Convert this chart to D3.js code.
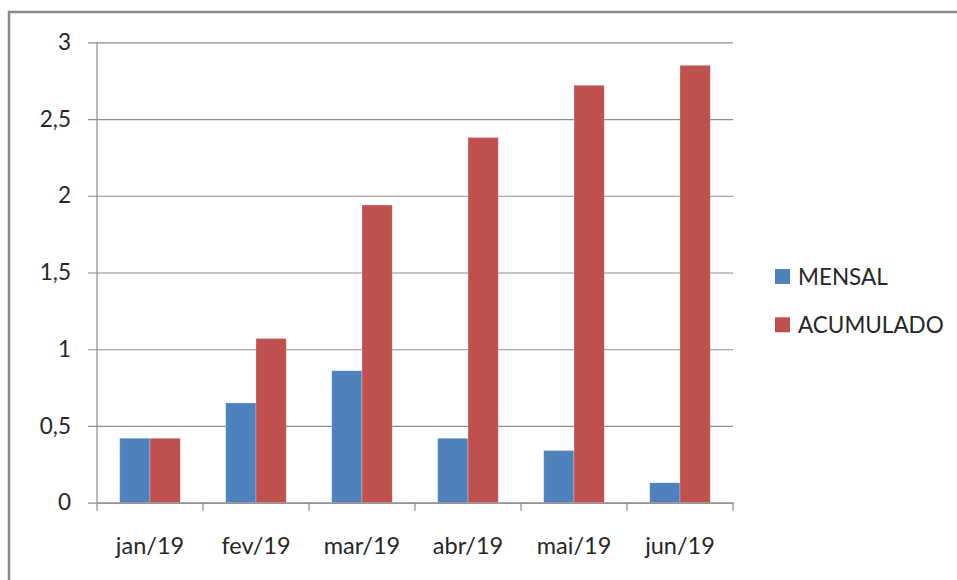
<!DOCTYPE html>
<meta charset="utf-8">
<script src="https://d3js.org/d3.v7.min.js"></script>
<style>
	body{ margin:0; background:#fff; }
	text{ font-family: Lato, "Noto Sans", sans-serif; fill:#262626; }
</style>
<div id="chart"></div>
<script>

// data
var months = ["jan/19","fev/19","mar/19","abr/19","mai/19","jun/19"]
var mensal = [0.42,0.65,0.86,0.42,0.34,0.13]
var acumulado = [0.42,1.07,1.94,2.38,2.72,2.85]
var seriesNames = ["MENSAL","ACUMULADO"]
var yTicks = [0,0.5,1,1.5,2,2.5,3]

var colors = ["#4F81BD","#C0504D"]

var W = 957, H = 580
var plot = {left: 97, right: 733, top: 42.3, bottom: 502.7}

var svg = d3.select("#chart").append("svg")
	.attr("width", W).attr("height", H)

// outer frame
svg.append("rect")
	.attr("x", 9).attr("y", 12)
	.attr("width", W).attr("height", H)
	.attr("fill", "none").attr("stroke", "#898989").attr("stroke-width", 2.5)

var yScale = d3.scaleLinear().domain([0,3]).range([plot.bottom, plot.top])
var xScale = d3.scaleBand().domain(months).range([plot.left, plot.right]).paddingInner(0).paddingOuter(0)
// excel style gap width 150%
var barW = xScale.bandwidth() / 3.5
var xSub = d3.scaleBand().domain(seriesNames).range([0, barW*2])

// gridlines + y axis
var yAxis = d3.axisLeft(yScale).tickValues(yTicks)
	.tickSize(plot.right - plot.left + 9)
	.tickPadding(17)
	.tickFormat(function(d){ return String(d).replace(".", ",") })

var gy = svg.append("g")
	.attr("transform", "translate(" + plot.right + ",0)")
	.call(yAxis)
gy.select(".domain").remove()
gy.selectAll("line").attr("stroke", "#8c8c8c").attr("stroke-width", 1.2)
gy.selectAll("text").attr("font-size", 22.5).attr("x", -(plot.right - plot.left + 9) - 17)

svg.append("line")
	.attr("x1", plot.left).attr("x2", plot.left)
	.attr("y1", plot.top).attr("y2", plot.bottom)
	.attr("stroke", "#8c8c8c").attr("stroke-width", 1.2)

// bars
var bars = svg.append("g")
months.forEach(function(m, i){
	var vals = [mensal[i], acumulado[i]]
	vals.forEach(function(v, s){
		bars.append("rect")
			.attr("x", xScale(m) + (xScale.bandwidth() - barW*2)/2 + xSub(seriesNames[s]))
			.attr("y", yScale(v))
			.attr("width", barW)
			.attr("height", yScale(0) - yScale(v))
			.attr("fill", colors[s])
			.attr("stroke", "rgba(255,255,255,0.35)")
			.attr("stroke-width", 0.8)
	})
})

// x axis
var xAxis = d3.axisBottom(xScale).tickSize(0).tickPadding(35)
var gx = svg.append("g")
	.attr("transform", "translate(0," + plot.bottom + ")")
	.call(xAxis)
gx.select(".domain").attr("stroke", "#8c8c8c").attr("stroke-width", 1.2)
gx.selectAll("text").attr("font-size", 23.5)

// tick marks between categories
var edges = months.map(function(m){ return xScale(m) }).concat([plot.right])
gx.selectAll(".sep").data(edges).enter().append("line")
	.attr("x1", function(d){ return d }).attr("x2", function(d){ return d })
	.attr("y1", 0).attr("y2", 8)
	.attr("stroke", "#8c8c8c").attr("stroke-width", 1.2)

// legend
var legend = svg.append("g")
seriesNames.forEach(function(name, i){
	var yy = 269 + i*48.3
	legend.append("rect")
		.attr("x", 775).attr("y", yy)
		.attr("width", 15).attr("height", 15)
		.attr("fill", colors[i])
	legend.append("text")
		.attr("x", 798).attr("y", yy + 16)
		.attr("font-size", 22.5)
		.text(name)
})

</script>
